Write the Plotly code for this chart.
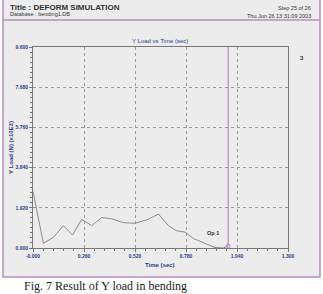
import plotly.graph_objects as go

# ---- data ----
time_sec = [0.0, 0.053, 0.104, 0.155, 0.202, 0.248, 0.299, 0.35, 0.40, 0.46, 0.52,
            0.58, 0.64, 0.69, 0.73, 0.775, 0.817, 0.868, 0.928, 0.97, 0.995]
y_load = [2.7, 0.22, 0.51, 1.07, 0.62, 1.37, 1.07, 1.45, 1.40, 1.21, 1.18,
          1.34, 1.62, 1.07, 0.83, 0.76, 0.46, 0.25, 0.02, 0.0, 0.1]
x_ticks = [0.0, 0.26, 0.52, 0.78, 1.04, 1.30]
x_labels = ["-0.000", "0.260", "0.520", "0.780", "1.040", "1.300"]
y_ticks = [0.0, 1.92, 3.84, 5.76, 7.68, 9.60]
y_labels = ["0.000", "1.920", "3.840", "5.760", "7.680", "9.600"]
step_time = 0.995

W, H = 323, 294
L, R, T, B = 33, 35, 47, 46
PW, PH = W - L - R, H - T - B

def px(x):
    return (x - L) / PW

def py(y):
    return (H - B - y) / PH

blue = "#1f3c8c"
purple = "#b98cc4"
tick_font = dict(family="Liberation Sans", size=5, color=blue)

fig = go.Figure()
fig.add_trace(go.Scatter(x=time_sec, y=y_load, mode="lines",
                         line=dict(color="#8a8a8a", width=1), showlegend=False))
fig.add_trace(go.Scatter(x=[time_sec[-1]], y=[y_load[-1]], mode="markers",
                         marker=dict(symbol="circle-open", size=4, color=purple, line=dict(width=1)),
                         showlegend=False))

shapes = [
    # frame background
    dict(type="rect", xref="paper", yref="paper", x0=px(3), x1=px(320), y0=py(277), y1=py(-2),
         fillcolor="#ececec", line=dict(color=purple, width=1.5), layer="below"),
    dict(type="line", xref="paper", yref="paper", x0=px(3), x1=px(320), y0=py(20), y1=py(20),
         line=dict(color=purple, width=1.5)),
    dict(type="line", xref="x", yref="paper", x0=step_time, x1=step_time, y0=py(246), y1=1,
         line=dict(color=purple, width=1.2)),
]

annotations = [
    dict(text="<b>Title : DEFORM SIMULATION</b>", x=px(8), y=py(7), xanchor="left", yanchor="middle",
         font=dict(family="Liberation Sans", size=8, color="#333")),
    dict(text="Database : bending1.DB", x=px(8), y=py(14), xanchor="left", yanchor="middle",
         font=dict(family="Liberation Sans", size=5.5, color="#333")),
    dict(text="Step 25 of 26", x=px(313), y=py(8), xanchor="right", yanchor="middle",
         font=dict(family="Liberation Sans", size=5.5, color="#333")),
    dict(text="Thu Jun 26 13:31:09 2003", x=px(313), y=py(16), xanchor="right", yanchor="middle",
         font=dict(family="Liberation Sans", size=5.5, color="#333")),
    dict(text="Y Load vs Time (sec)", x=px(160), y=py(41), xanchor="center", yanchor="middle",
         font=dict(family="Liberation Sans", size=6, color=blue)),
    dict(text="<b>3</b>", x=px(302), y=py(58), xanchor="center", yanchor="middle",
         font=dict(family="Liberation Sans", size=6, color="#333")),
    dict(text="<b>Op 1</b>", x=px(213), y=py(233), xanchor="center", yanchor="middle",
         font=dict(family="Liberation Sans", size=5.5, color="#333")),
    dict(text="<b>Y Load (N) (x10E3)</b>", x=px(11), y=py(148), xanchor="center", yanchor="middle",
         textangle=-90, font=dict(family="Liberation Sans", size=6, color=blue)),
    dict(text="<b>Time (sec)</b>", x=px(160), y=py(265), xanchor="center", yanchor="middle",
         font=dict(family="Liberation Sans", size=6, color=blue)),
    dict(text="Fig. 7 Result of Y load in bending", x=px(22), y=py(286), xanchor="left", yanchor="middle",
         font=dict(family="Liberation Serif", size=12, color="#222")),
]
for a in annotations:
    a.setdefault("xref", "paper")
    a.setdefault("yref", "paper")
    a["showarrow"] = False

fig.update_layout(
    width=W, height=H,
    margin=dict(l=L, r=R, t=T, b=B),
    paper_bgcolor="white",
    plot_bgcolor="#eeeeee",
    shapes=shapes,
    annotations=annotations,
    xaxis=dict(range=[0, 1.3], tickvals=x_ticks, ticktext=[f"<b>{t}</b>" for t in x_labels],
               tickfont=tick_font, showgrid=True, gridcolor="#9a9a9a", griddash="dot", gridwidth=1,
               showline=True, linecolor="#777", linewidth=1, mirror=True,
               ticks="outside", ticklen=3, tickcolor="#777", zeroline=False,
               minor=dict(dtick=0.052, ticks="outside", ticklen=2, tickcolor="#777", showgrid=False)),
    yaxis=dict(range=[0, 9.6], tickvals=y_ticks, ticktext=[f"<b>{t}</b>" for t in y_labels],
               tickfont=tick_font, showgrid=True, gridcolor="#9a9a9a", griddash="dot", gridwidth=1,
               showline=True, linecolor="#777", linewidth=1, mirror=True,
               ticks="outside", ticklen=3, tickcolor="#777", zeroline=False,
               minor=dict(dtick=0.24, ticks="outside", ticklen=2, tickcolor="#777", showgrid=False)),
)

fig.write_html("out.html")
